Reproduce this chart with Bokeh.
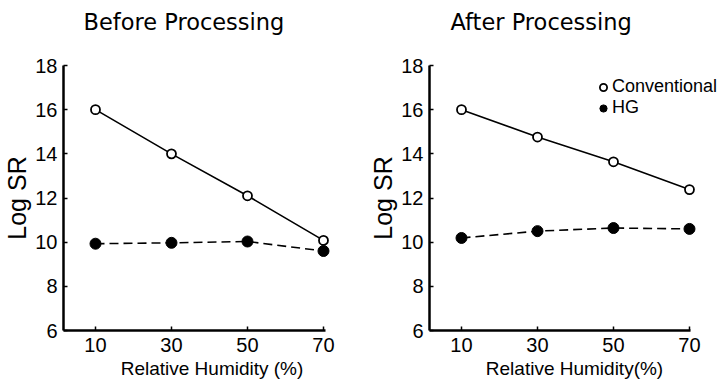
from bokeh.plotting import figure
from bokeh.layouts import row
from bokeh.models import Range1d, FixedTicker, Legend, LegendItem, Title
from bokeh.embed import file_html
from bokeh.resources import INLINE

rh = [10, 30, 50, 70]
before_conv = [16.0, 14.0, 12.1, 10.08]
before_hg = [9.93, 9.97, 10.03, 9.6]
after_conv = [16.0, 14.76, 13.64, 12.38]
after_hg = [10.19, 10.5, 10.64, 10.6]
x_ticks = [10, 30, 50, 70]
y_ticks = [6, 8, 10, 12, 14, 16, 18]

TICK_FONT = "Liberation Sans"
TITLE_FONT = "DejaVu Sans"


def make_panel(title, xlabel, conv, hg, width, mb, x_end, x_axis_end, title_offset, gap):
    p = figure(width=width, height=390, output_backend="svg", toolbar_location=None,
               title=None,
               x_range=Range1d(1.58, x_end), y_range=Range1d(6, 18),
               min_border_left=mb[0], min_border_right=mb[1],
               min_border_top=mb[2], min_border_bottom=mb[3])
    spacer = Title(text=" ", text_font_size="1px", standoff=gap)
    main = Title(text=title, text_font=TITLE_FONT, text_font_size="22.5px",
                 text_font_style="normal", text_color="black", align="left",
                 vertical_align="bottom", offset=title_offset, standoff=0)
    p.add_layout(spacer, "above")
    p.add_layout(main, "above")
    p.outline_line_color = None
    p.grid.visible = False
    p.background_fill_color = "white"
    p.border_fill_color = "white"
    for ax in (p.xaxis[0], p.yaxis[0]):
        ax.axis_line_width = 2.5
        ax.axis_line_color = "black"
        ax.major_tick_line_color = "black"
        ax.major_tick_line_width = 1.5
        ax.major_tick_in = 4
        ax.major_tick_out = 0
        ax.minor_tick_line_color = None
        ax.major_label_text_font = TICK_FONT
        ax.major_label_text_font_size = "20px"
        ax.major_label_text_color = "black"
        ax.axis_label_text_font = TICK_FONT
        ax.axis_label_text_font_style = "normal"
        ax.axis_label_text_color = "black"
    p.xaxis.ticker = FixedTicker(ticks=x_ticks)
    p.yaxis.ticker = FixedTicker(ticks=y_ticks)
    p.xaxis.bounds = (1.58, x_axis_end)
    p.xaxis.axis_label = xlabel
    p.xaxis.axis_label_text_font_size = "19px"
    p.xaxis.major_label_standoff = 7
    p.xaxis.axis_label_standoff = 3
    p.yaxis.axis_label = "Log SR"
    p.yaxis.axis_label_text_font_size = "25px"
    p.yaxis.major_label_standoff = 6
    p.yaxis.axis_label_standoff = 1

    p.line(rh, conv, line_color="black", line_width=1.6)
    p.line(rh, hg, line_color="black", line_width=1.6, line_dash="9 5")
    rc = p.scatter(rh, conv, marker="circle", size=9, fill_color="white",
                   line_color="black", line_width=1.8)
    rf = p.scatter(rh, hg, marker="circle", size=11, fill_color="black",
                   line_color="black")
    return p, rc, rf


p1, _, _ = make_panel("Before Processing", "Relative Humidity (%)", before_conv, before_hg,
                      360, (63, 0, 65, 56), 79.74, 70.5, 20, 28)
p2, rc, rf = make_panel("After Processing", "Relative Humidity(%)", after_conv, after_hg,
                        359, (69, 0, 63, 60), 77.9, 70.3, 21, 28)

legend = Legend(items=[LegendItem(label="Conventional", renderers=[rc]),
                       LegendItem(label="HG", renderers=[rf])],
                location=(165, 212), padding=0, margin=0, spacing=0,
                glyph_width=18, glyph_height=20, label_standoff=0,
                label_height=16, border_line_color=None, background_fill_alpha=0,
                label_text_color="black",
                label_text_font=TICK_FONT, label_text_font_size="18px")
p2.add_layout(legend)

layout = row(p1, p2)
open("out.html", "w").write(file_html(layout, INLINE))
